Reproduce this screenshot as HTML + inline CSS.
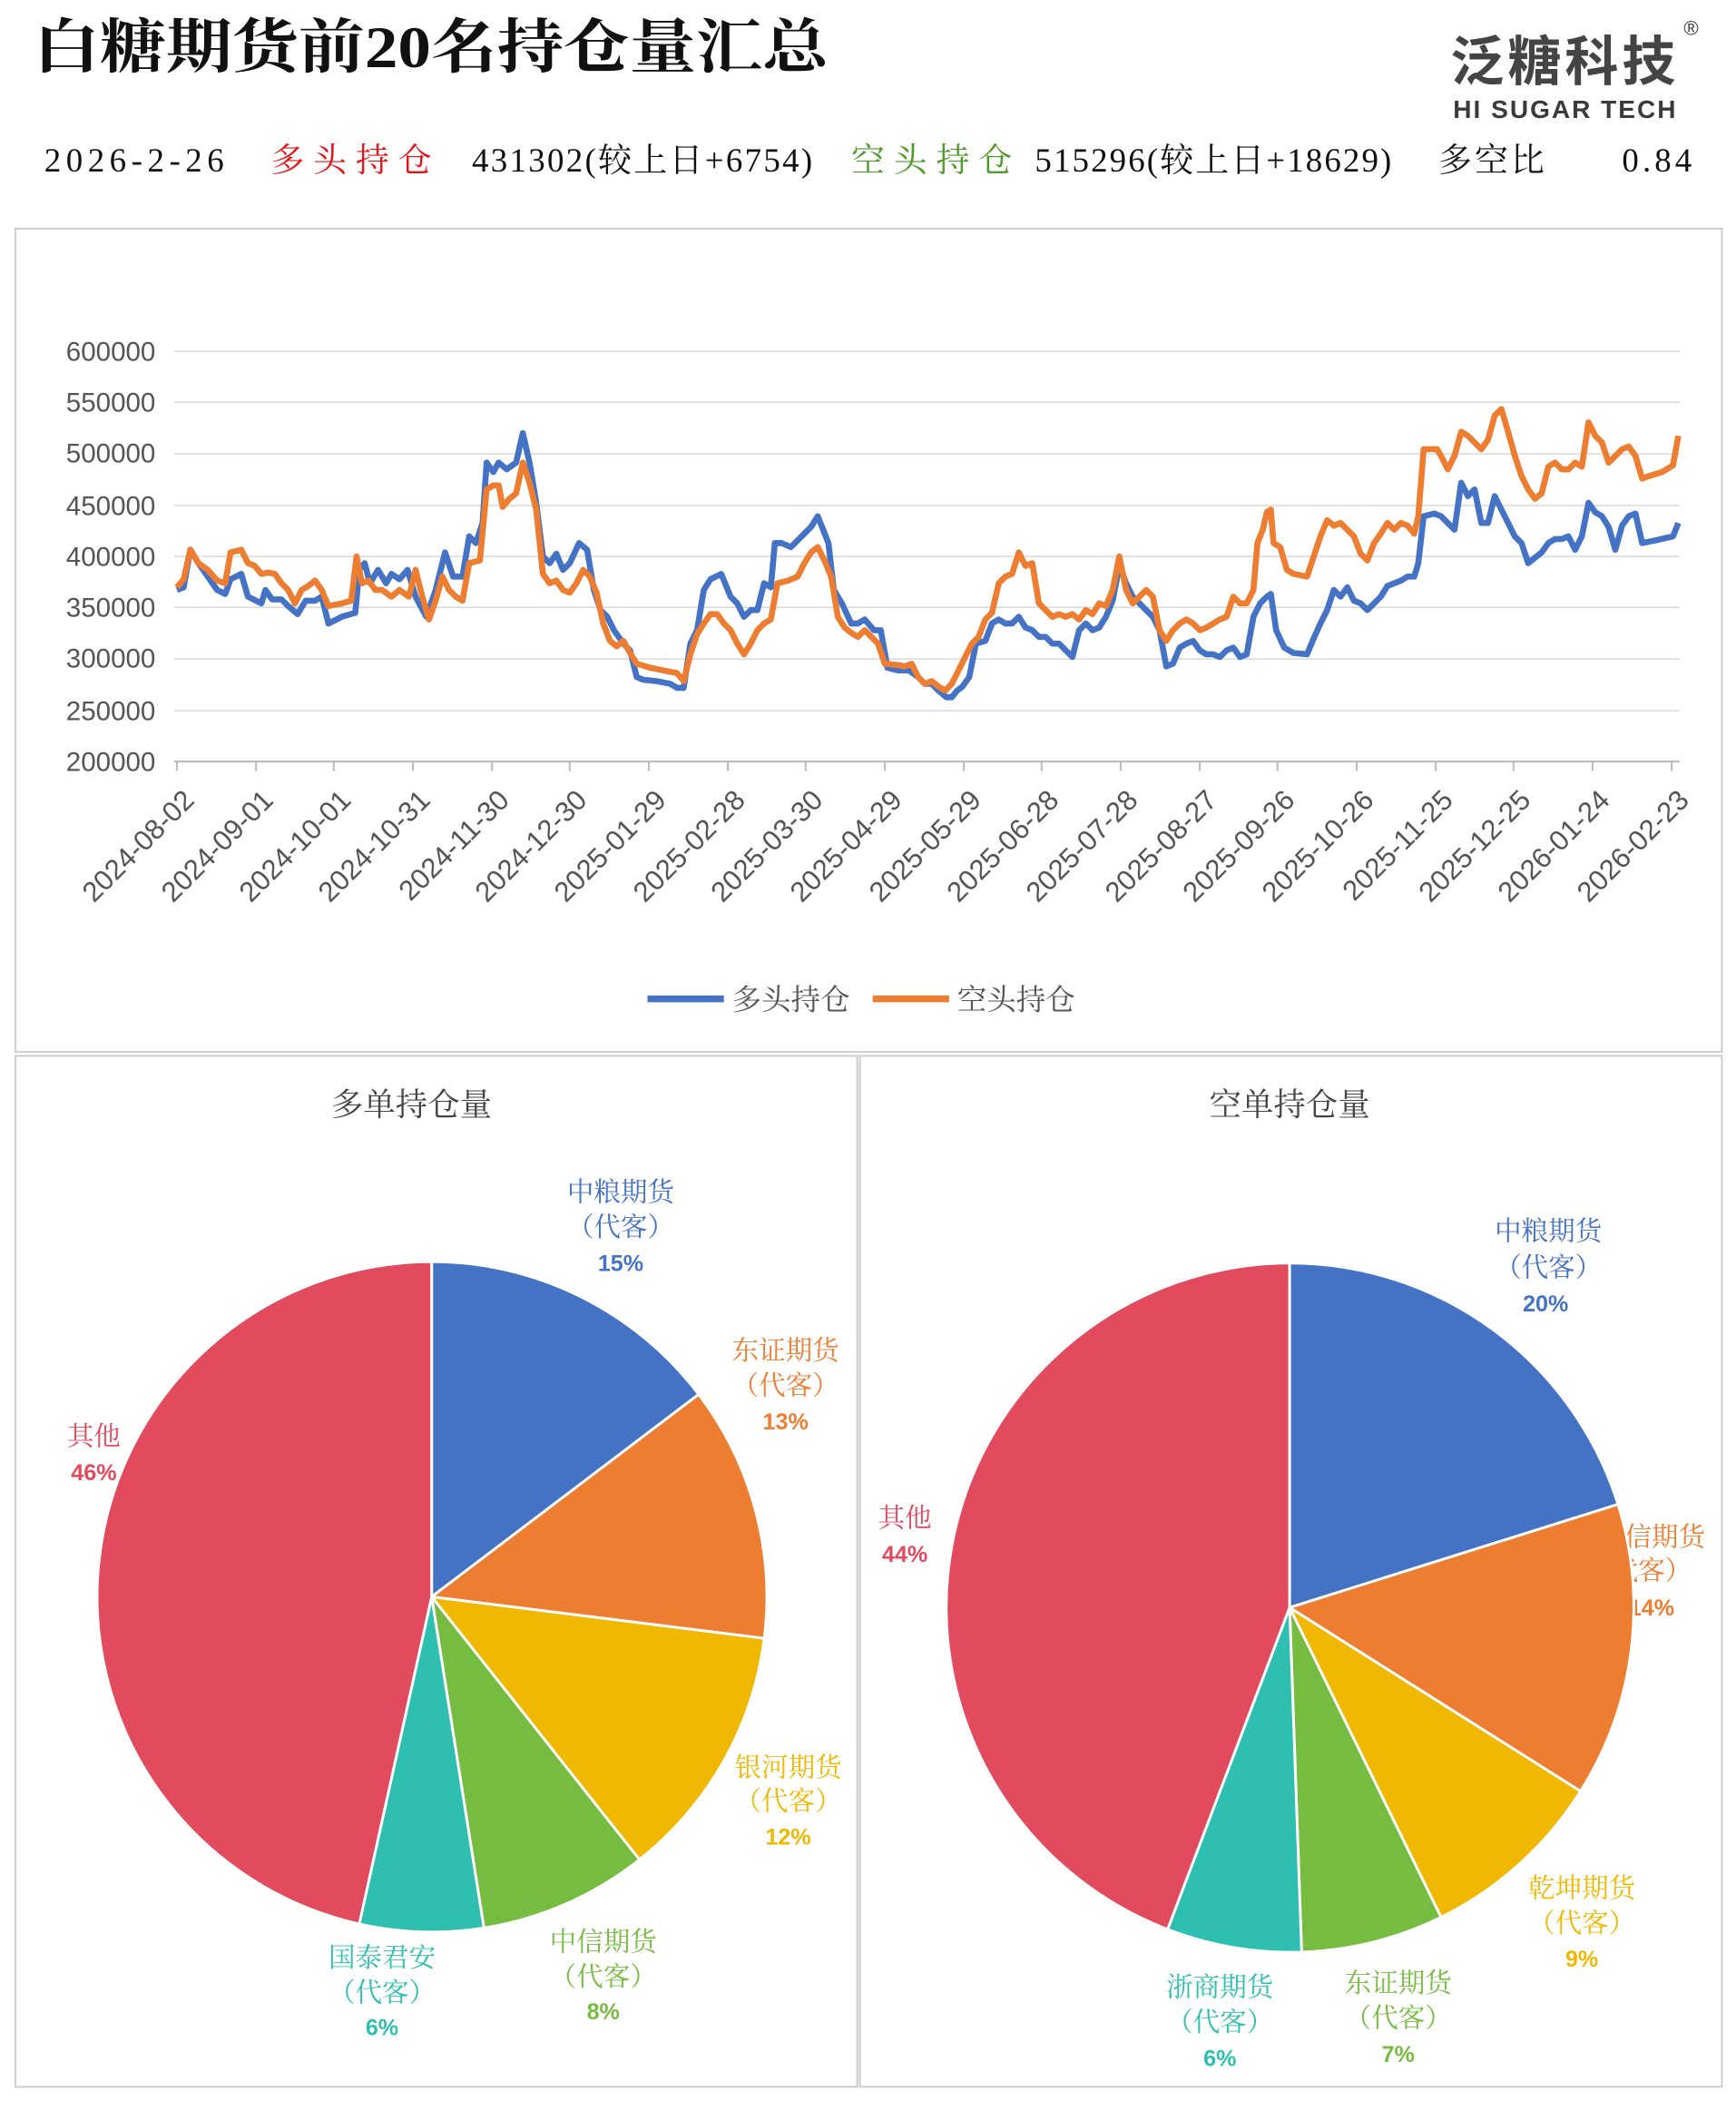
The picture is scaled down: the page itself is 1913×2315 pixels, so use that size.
<!DOCTYPE html>
<html><head><meta charset="utf-8"><style>
html,body{margin:0;padding:0;background:#fff;}
svg{display:block;}
.serif{font-family:"Liberation Serif","Noto Serif CJK SC",serif;}
.sans{font-family:"Liberation Sans","Noto Sans CJK SC",sans-serif;}
</style></head><body>
<svg width="1913" height="2315" viewBox="0 0 1295 1567" xmlns="http://www.w3.org/2000/svg">
<rect width="1295" height="1567" fill="#fff"/>
<text x="25" y="50" class="serif" font-size="44" font-weight="bold" fill="#111" textLength="593" lengthAdjust="spacingAndGlyphs">白糖期货前20名持仓量汇总</text>
<text x="1082" y="60" class="sans" font-size="40" font-weight="bold" fill="#444" textLength="168">泛糖科技</text>
<text x="1256" y="26" class="sans" font-size="15" fill="#3a3a3a">®</text>
<text x="1084" y="88" class="sans" font-size="19" fill="#3a3a3a" font-weight="bold" textLength="166">HI SUGAR TECH</text>
<g class="serif" font-size="25">
<text x="33" y="128" fill="#111" textLength="134">2026-2-26</text>
<text x="202" y="128" fill="#e8141c" textLength="120">多头持仓</text>
<text x="352" y="128" fill="#111" textLength="254">431302(较上日+6754)</text>
<text x="635" y="128" fill="#4e9a2a" textLength="120">空头持仓</text>
<text x="772" y="128" fill="#111" textLength="266">515296(较上日+18629)</text>
<text x="1073" y="128" fill="#111" textLength="79">多空比</text>
<text x="1210" y="128" fill="#111" textLength="52">0.84</text>
</g>
<rect x="11.5" y="170.5" width="1273" height="614" fill="none" stroke="#d0d0d0" stroke-width="1.5"/>
<g stroke="#d9d9d9" stroke-width="1">
<line x1="130" x2="1253" y1="262" y2="262"/><line x1="130" x2="1253" y1="300" y2="300"/>
<line x1="130" x2="1253" y1="338.5" y2="338.5"/><line x1="130" x2="1253" y1="377" y2="377"/>
<line x1="130" x2="1253" y1="415" y2="415"/><line x1="130" x2="1253" y1="453" y2="453"/>
<line x1="130" x2="1253" y1="491.5" y2="491.5"/><line x1="130" x2="1253" y1="530" y2="530"/>
</g>
<line x1="130" x2="1253" y1="568" y2="568" stroke="#bfbfbf" stroke-width="1.5"/>
<g class="sans" font-size="20" fill="#555" text-anchor="end">
<text x="116" y="269">600000</text><text x="116" y="307">550000</text><text x="116" y="345">500000</text>
<text x="116" y="384">450000</text><text x="116" y="422">400000</text><text x="116" y="460">350000</text>
<text x="116" y="498">300000</text><text x="116" y="537">250000</text><text x="116" y="575">200000</text>
</g>
<g class="sans" font-size="21" fill="#555" text-anchor="end">
<text transform="translate(146,598) rotate(-45)">2024-08-02</text>
<text transform="translate(205,598) rotate(-45)">2024-09-01</text>
<text transform="translate(263,598) rotate(-45)">2024-10-01</text>
<text transform="translate(322,598) rotate(-45)">2024-10-31</text>
<text transform="translate(381,598) rotate(-45)">2024-11-30</text>
<text transform="translate(439,598) rotate(-45)">2024-12-30</text>
<text transform="translate(498,598) rotate(-45)">2025-01-29</text>
<text transform="translate(557,598) rotate(-45)">2025-02-28</text>
<text transform="translate(615,598) rotate(-45)">2025-03-30</text>
<text transform="translate(674,598) rotate(-45)">2025-04-29</text>
<text transform="translate(733,598) rotate(-45)">2025-05-29</text>
<text transform="translate(791,598) rotate(-45)">2025-06-28</text>
<text transform="translate(850,598) rotate(-45)">2025-07-28</text>
<text transform="translate(909,598) rotate(-45)">2025-08-27</text>
<text transform="translate(967,598) rotate(-45)">2025-09-26</text>
<text transform="translate(1026,598) rotate(-45)">2025-10-26</text>
<text transform="translate(1085,598) rotate(-45)">2025-11-25</text>
<text transform="translate(1143,598) rotate(-45)">2025-12-25</text>
<text transform="translate(1202,598) rotate(-45)">2026-01-24</text>
<text transform="translate(1261,598) rotate(-45)">2026-02-23</text>
</g>
<g stroke="#bfbfbf" stroke-width="1.5">
<line x1="132" x2="132" y1="568" y2="575"/><line x1="191" x2="191" y1="568" y2="575"/><line x1="249" x2="249" y1="568" y2="575"/><line x1="308" x2="308" y1="568" y2="575"/><line x1="367" x2="367" y1="568" y2="575"/><line x1="425" x2="425" y1="568" y2="575"/><line x1="484" x2="484" y1="568" y2="575"/><line x1="543" x2="543" y1="568" y2="575"/><line x1="601" x2="601" y1="568" y2="575"/><line x1="660" x2="660" y1="568" y2="575"/><line x1="719" x2="719" y1="568" y2="575"/><line x1="777" x2="777" y1="568" y2="575"/><line x1="836" x2="836" y1="568" y2="575"/><line x1="895" x2="895" y1="568" y2="575"/><line x1="953" x2="953" y1="568" y2="575"/><line x1="1012" x2="1012" y1="568" y2="575"/><line x1="1071" x2="1071" y1="568" y2="575"/><line x1="1129" x2="1129" y1="568" y2="575"/><line x1="1188" x2="1188" y1="568" y2="575"/><line x1="1247" x2="1247" y1="568" y2="575"/>
</g>
<polyline fill="none" stroke="#4472C4" stroke-width="4.5" stroke-linejoin="round" points="132,440 137,438 142,410 148,420 155,430 162,440 168,443 172,432 180,428 185,445 195,450 198,440 203,447 210,447 215,452 222,458 228,448 235,448 240,445 245,465 255,460 265,457 268,425 272,420 276,435 282,425 288,435 292,428 298,432 304,425 310,445 318,460 325,440 332,412 338,430 345,430 350,400 355,405 360,390 363,345 368,352 372,345 378,350 385,345 390,323 395,345 400,375 405,415 410,420 415,413 420,425 425,420 432,405 438,410 443,440 448,455 453,460 458,470 465,480 470,485 475,505 480,507 490,508 500,510 505,513 510,513 515,480 520,470 525,440 530,432 538,428 545,445 550,450 555,460 560,455 565,455 570,435 575,438 578,405 583,405 590,408 598,400 605,393 610,385 614,395 618,405 622,440 628,450 635,465 640,465 645,462 652,470 657,470 662,498 670,500 678,500 685,505 690,510 695,510 700,515 706,520 710,520 714,515 718,512 723,505 728,480 735,478 740,465 745,462 750,465 755,465 760,460 765,468 770,470 775,475 780,475 785,480 790,480 795,485 800,490 805,470 810,465 815,470 820,468 825,460 830,448 835,422 840,435 845,445 850,450 855,455 860,460 865,470 870,497 875,495 880,483 885,480 890,478 895,485 900,488 905,488 910,490 915,485 920,483 925,490 930,488 935,460 940,450 945,445 948,443 952,470 958,483 965,487 975,488 980,476 985,465 990,455 995,440 1000,445 1005,438 1010,448 1015,450 1020,455 1025,450 1030,445 1035,437 1040,435 1045,433 1050,430 1055,430 1058,420 1062,385 1070,383 1075,385 1080,390 1085,395 1090,360 1095,370 1100,365 1105,390 1110,390 1115,370 1120,380 1125,390 1130,400 1135,405 1140,420 1145,416 1150,412 1155,405 1160,402 1165,402 1170,400 1175,410 1180,400 1185,375 1190,382 1195,385 1200,393 1205,410 1210,392 1215,385 1220,383 1225,405 1235,403 1248,400 1252,390"/>
<polyline fill="none" stroke="#ED7D31" stroke-width="4.5" stroke-linejoin="round" points="132,438 137,432 142,410 148,420 155,425 162,433 168,435 172,412 180,410 185,420 190,422 195,428 200,427 205,428 210,435 215,440 220,450 225,440 230,437 235,433 240,440 245,452 255,450 262,448 266,415 270,435 275,433 280,440 285,440 292,445 298,440 305,445 310,425 315,445 320,462 325,448 330,430 335,440 340,445 345,448 350,420 358,418 363,365 368,362 372,362 375,378 380,372 385,368 390,345 395,360 400,380 405,428 410,435 415,433 420,440 425,442 430,435 435,425 440,430 445,442 450,465 455,478 460,482 465,478 470,487 475,495 485,498 495,500 505,502 510,508 515,488 520,473 525,465 530,458 535,458 540,465 545,470 550,480 555,488 560,480 565,470 570,465 575,462 580,435 588,433 595,430 600,420 605,412 610,408 615,418 620,430 625,460 630,468 635,472 640,475 645,470 650,475 655,480 660,495 670,496 675,497 680,495 685,505 690,510 695,508 700,512 705,515 710,510 715,500 720,490 725,480 730,475 735,462 740,457 745,435 750,430 755,428 760,412 765,422 770,420 775,450 780,455 785,460 790,458 795,460 800,458 805,462 810,455 815,458 820,450 825,452 830,440 835,415 840,440 845,450 850,445 855,440 860,445 865,470 870,478 875,470 880,465 885,462 890,465 895,470 900,468 905,465 910,462 915,460 920,445 925,450 930,450 935,440 938,405 942,395 945,382 948,380 950,405 955,408 960,425 965,428 975,430 980,415 985,400 990,388 995,392 1000,390 1005,395 1010,400 1015,413 1020,418 1025,405 1030,398 1035,390 1040,395 1045,390 1050,392 1055,398 1058,385 1062,335 1068,335 1072,335 1075,340 1080,350 1085,340 1090,322 1095,325 1100,330 1105,335 1110,328 1115,310 1120,305 1125,322 1130,340 1135,355 1140,365 1145,372 1150,368 1155,348 1160,345 1165,350 1170,350 1175,345 1180,348 1185,315 1190,325 1195,330 1200,345 1205,340 1210,335 1215,333 1220,340 1225,357 1230,355 1240,352 1248,347 1252,325"/>
<line x1="483" x2="540" y1="745" y2="745" stroke="#4472C4" stroke-width="5"/>
<text x="546" y="753" class="serif" font-size="22" fill="#555">多头持仓</text>
<line x1="651" x2="708" y1="745" y2="745" stroke="#ED7D31" stroke-width="5"/>
<text x="714" y="753" class="serif" font-size="22" fill="#555">空头持仓</text>

<rect x="11.5" y="787.5" width="628" height="769" fill="none" stroke="#d0d0d0" stroke-width="1.5"/>
<rect x="641.5" y="787.5" width="643" height="769" fill="none" stroke="#d0d0d0" stroke-width="1.5"/>
<text x="307" y="832" class="serif" font-size="24" fill="#444" text-anchor="middle">多单持仓量</text>
<text x="962" y="832" class="serif" font-size="24" fill="#444" text-anchor="middle">空单持仓量</text>

<g class="serif" font-size="20" text-anchor="middle">
<text x="1232" y="1153" fill="#ED7D31">中信期货</text>
<text x="1222" y="1178" fill="#ED7D31">（代客）</text>
</g>
<text x="1232" y="1205" class="sans" font-size="17" font-weight="bold" fill="#ED7D31" text-anchor="middle">14%</text>

<g stroke="#fff" stroke-width="2">
<path d="M322,1191 L322,941 A250,250 0 0 1 521.2,1040 Z" fill="#4472C4"/>
<path d="M322,1191 L521.2,1040 A250,250 0 0 1 570.1,1222 Z" fill="#ED7D31"/>
<path d="M322,1191 L570.1,1222 A250,250 0 0 1 477,1387 Z" fill="#F0B800"/>
<path d="M322,1191 L477,1387 A250,250 0 0 1 361,1438 Z" fill="#76BC41"/>
<path d="M322,1191 L361,1438 A250,250 0 0 1 268,1435 Z" fill="#2EBFB1"/>
<path d="M322,1191 L268,1435 A250,250 0 0 1 322,941 Z" fill="#E24A5E"/>
<path d="M962,1199 L962,942 A257,257 0 0 1 1207,1122 Z" fill="#4472C4"/>
<path d="M962,1199 L1207,1122 A257,257 0 0 1 1179,1336 Z" fill="#ED7D31"/>
<path d="M962,1199 L1179,1336 A257,257 0 0 1 1075,1430 Z" fill="#F0B800"/>
<path d="M962,1199 L1075,1430 A257,257 0 0 1 971,1456 Z" fill="#76BC41"/>
<path d="M962,1199 L971,1456 A257,257 0 0 1 871,1439 Z" fill="#2EBFB1"/>
<path d="M962,1199 L871,1439 A257,257 0 0 1 962,942 Z" fill="#E24A5E"/>
</g>

<g class="serif" font-size="20" text-anchor="middle">
<text x="463" y="896" fill="#4472C4">中粮期货</text><text x="463" y="922" fill="#4472C4">（代客）</text>
<text x="586" y="1014" fill="#ED7D31">东证期货</text><text x="586" y="1040" fill="#ED7D31">（代客）</text>
<text x="588" y="1325" fill="#F0B800">银河期货</text><text x="588" y="1350" fill="#F0B800">（代客）</text>
<text x="450" y="1455" fill="#76BC41">中信期货</text><text x="450" y="1481" fill="#76BC41">（代客）</text>
<text x="285" y="1467" fill="#2EBFB1">国泰君安</text><text x="285" y="1493" fill="#2EBFB1">（代客）</text>
<text x="70" y="1078" fill="#E24A5E">其他</text>
<text x="1155" y="925" fill="#4472C4">中粮期货</text><text x="1155" y="952" fill="#4472C4">（代客）</text>
<text x="1180" y="1415" fill="#F0B800">乾坤期货</text><text x="1180" y="1441" fill="#F0B800">（代客）</text>
<text x="1043" y="1486" fill="#76BC41">东证期货</text><text x="1043" y="1512" fill="#76BC41">（代客）</text>
<text x="910" y="1489" fill="#2EBFB1">浙商期货</text><text x="910" y="1515" fill="#2EBFB1">（代客）</text>
<text x="675" y="1139" fill="#E24A5E">其他</text>
</g>
<g class="sans" font-size="17" font-weight="bold" text-anchor="middle">
<text x="463" y="948" fill="#4472C4">15%</text>
<text x="586" y="1066" fill="#ED7D31">13%</text>
<text x="588" y="1376" fill="#F0B800">12%</text>
<text x="450" y="1506" fill="#76BC41">8%</text>
<text x="285" y="1518" fill="#2EBFB1">6%</text>
<text x="70" y="1104" fill="#E24A5E">46%</text>
<text x="1153" y="978" fill="#4472C4">20%</text>
<text x="1180" y="1467" fill="#F0B800">9%</text>
<text x="1043" y="1538" fill="#76BC41">7%</text>
<text x="910" y="1541" fill="#2EBFB1">6%</text>
<text x="675" y="1165" fill="#E24A5E">44%</text>
</g>
</svg>
</body></html>
